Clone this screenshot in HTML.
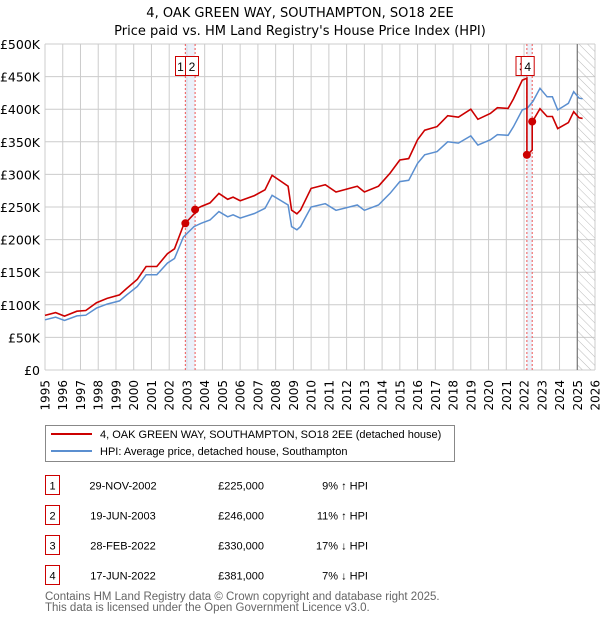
<!DOCTYPE html>
<html><head><meta charset="utf-8"><style>
body{margin:0;background:#fff;font-family:"Liberation Sans","DejaVu Sans",sans-serif;}
svg{display:block}
.dv{font-family:"DejaVu Sans","Liberation Sans",sans-serif;}
</style></head><body>
<svg id="chart" width="600" height="620" viewBox="0 0 600 620" xmlns="http://www.w3.org/2000/svg">
<defs>
<pattern id="hatch" width="6" height="6" patternUnits="userSpaceOnUse" patternTransform="rotate(-45)">
<line x1="0" y1="0" x2="0" y2="6" stroke="#bbb" stroke-width="1"/></pattern>
</defs>
<text class="dv" x="300" y="17" text-anchor="middle" font-size="13" fill="#000">4, OAK GREEN WAY, SOUTHAMPTON, SO18 2EE</text>
<text class="dv" x="300" y="35" text-anchor="middle" font-size="13" fill="#000">Price paid vs. HM Land Registry's House Price Index (HPI)</text>
<g id="grid"></g>
<g id="marks"></g>
<g id="axes" class="dv"></g>
<g>
<rect x="45.5" y="425.5" width="409" height="36" fill="#fff" stroke="#888"/>
<line x1="51" y1="434" x2="92" y2="434" stroke="#cc0000" stroke-width="2"/>
<text x="100" y="438" font-size="11">4, OAK GREEN WAY, SOUTHAMPTON, SO18 2EE (detached house)</text>
<line x1="51" y1="451" x2="92" y2="451" stroke="#5b8fd0" stroke-width="2"/>
<text x="100" y="455" font-size="11">HPI: Average price, detached house, Southampton</text>
</g>
<g id="table" font-size="11"></g>
<text x="45" y="600" font-size="11.5" fill="#666">Contains HM Land Registry data © Crown copyright and database right 2025.</text>
<text x="45" y="611" font-size="11.5" fill="#666">This data is licensed under the Open Government Licence v3.0.</text>
</svg>
<script>
const hpiDates=[1995.0,1995.6,1996.1,1996.8,1997.3,1997.9,1998.5,1999.2,1999.6,2000.2,2000.7,2001.3,2001.9,2002.3,2002.8,2003.4,2003.8,2004.3,2004.8,2005.3,2005.6,2006.0,2006.8,2007.4,2007.8,2008.1,2008.7,2008.9,2009.2,2009.4,2010.0,2010.8,2011.4,2012.6,2013.0,2013.8,2014.45,2015.0,2015.5,2016.0,2016.4,2017.1,2017.7,2018.3,2019.0,2019.4,2020.1,2020.5,2021.1,2021.4,2021.9,2022.2,2022.5,2022.9,2023.3,2023.6,2023.9,2024.2,2024.5,2024.8,2025.1,2025.3];
const hpiValues=[77,81,76,83,84,95,101,106,115,128,146,146,164,171,204,220,225,230,243,235,238,233,240,248,268,263,253,220,215,220,250,255,245,253,245,253,271,289,291,317,330,335,350,348,359,345,353,361,360,373,399,402,412,432,419,419,399,404,409,427,417,416];
const saleLabels=["1","2","3","4"];
const saleDates=[2002.91,2003.46,2022.16,2022.46];
const salePrices=[225000,246000,330000,381000];
const saleDateText=["29-NOV-2002","19-JUN-2003","28-FEB-2022","17-JUN-2022"];
const saleHpiText=["9% \u2191 HPI","11% \u2191 HPI","17% \u2193 HPI","7% \u2193 HPI"];
const yTicks=[0,50,100,150,200,250,300,350,400,450,500];
const yTickLabels=["£0","£50K","£100K","£150K","£200K","£250K","£300K","£350K","£400K","£450K","£500K"];
const xYears=[1995,1996,1997,1998,1999,2000,2001,2002,2003,2004,2005,2006,2007,2008,2009,2010,2011,2012,2013,2014,2015,2016,2017,2018,2019,2020,2021,2022,2023,2024,2025,2026];

const NS="http://www.w3.org/2000/svg";
const X0=45,X1=595,Y0=370,Y1=44;
const xs=y=>X0+(y-1995)/(2026-1995)*(X1-X0);
const ys=v=>Y0-v/500*(Y0-Y1);
function mk(tag,attrs,parent){const e=document.createElementNS(NS,tag);for(const k in attrs)e.setAttribute(k,attrs[k]);parent.appendChild(e);return e;}
const grid=document.getElementById('grid'),marks=document.getElementById('marks'),axes=document.getElementById('axes'),table=document.getElementById('table');
yTicks.forEach((t,i)=>{
 const l=mk('line',{x1:X0,x2:X1,y1:ys(t),y2:ys(t),stroke:'#ccc','stroke-width':1},grid);
 
 
 const tx=mk('text',{x:X0-5,y:ys(t)+5,'text-anchor':'end','font-size':12.5},axes);
 tx.textContent=yTickLabels[i];
 
 
});
xYears.forEach(yr=>{
 const l=mk('line',{x1:xs(yr),x2:xs(yr),y1:Y1,y2:Y0,stroke:'#ccc','stroke-width':1},grid);
 
 
 const tx=mk('text',{x:0,y:0,'text-anchor':'end','font-size':12,transform:`translate(${xs(yr)+4.5},380) rotate(-90)`},axes);
 tx.textContent=yr;
 
 
});
const h=mk('rect',{x:xs(2025),y:Y1,width:X1-xs(2025),height:Y0-Y1,fill:'url(#hatch)'},grid);


mk('line',{x1:xs(2025),x2:xs(2025),y1:Y1,y2:Y0,stroke:'#666','stroke-width':1},grid);
[[0,1],[2,3]].forEach(p=>{
 const b=mk('rect',{x:xs(saleDates[p[0]]),y:Y1,width:xs(saleDates[p[1]])-xs(saleDates[p[0]]),height:Y0-Y1,fill:'#dde6f5',opacity:0.6},grid);
 
 
});
saleDates.forEach(d=>{
 const l=mk('line',{x1:xs(d),x2:xs(d),y1:Y1,y2:Y0,stroke:'#ee5555','stroke-width':1,'stroke-dasharray':'2,2'},grid);
 
 
});
function hpiAt(d){
 if(d<=hpiDates[0])return hpiValues[0];
 for(let i=1;i<hpiDates.length;i++){if(d<=hpiDates[i]){const t=(d-hpiDates[i-1])/(hpiDates[i]-hpiDates[i-1]);return hpiValues[i-1]+t*(hpiValues[i]-hpiValues[i-1]);}}
 return hpiValues[hpiValues.length-1];
}
const hp=mk('path',{d:hpiDates.map((d,i)=>(i?'L':'M')+xs(d).toFixed(1)+','+ys(hpiValues[i]).toFixed(1)).join(''),fill:'none',stroke:'#5b8fd0','stroke-width':1.5},marks);


const ratios=saleDates.map((d,i)=>salePrices[i]/1000/hpiAt(d));
let pts=[];
const bounds=[1995,...saleDates,hpiDates[hpiDates.length-1]];
for(let s=0;s<bounds.length-1;s++){
 const r=ratios[Math.max(0,s-1)];
 const a=bounds[s],b=bounds[s+1];
 pts.push([a,hpiAt(a)*r]);
 hpiDates.forEach((d,i)=>{if(d>a&&d<b)pts.push([d,hpiValues[i]*r]);});
 pts.push([b,hpiAt(b)*r]);
}
const rp=mk('path',{d:pts.map((p,i)=>(i?'L':'M')+xs(p[0]).toFixed(1)+','+ys(p[1]).toFixed(1)).join(''),fill:'none',stroke:'#cc0000','stroke-width':1.6},marks);


saleDates.forEach((d,i)=>{
 const c=mk('circle',{cx:xs(d),cy:ys(salePrices[i]/1000),r:4,fill:'#cc0000'},marks);
 
 
});
const boxX=[175,185,515.5,520.7],boxW=[10,13,13,13];
saleLabels.forEach((s,i)=>{
 const g=mk('g',{},marks);
 
 
 mk('rect',{x:boxX[i]+0.5,y:56.5,width:boxW[i],height:19,fill:'#fff',stroke:'#cc0000'},g);
 const t=mk('text',{x:boxX[i]+0.5+boxW[i]/2,y:71,'text-anchor':'middle','font-size':12},g);
 t.textContent=s;
});
saleLabels.forEach((s,i)=>{
 const y=486+i*30;
 const g=mk('g',{},table);
 
 
 mk('rect',{x:45.5,y:y-10.5,width:14,height:19,fill:'#fff',stroke:'#cc0000'},g);
 const n=mk('text',{x:52.5,y:y+3.5,'text-anchor':'middle'},g);n.textContent=s;
 const a=mk('text',{x:123,y:y+3.5,'text-anchor':'middle'},g);a.textContent=saleDateText[i];
 const p=mk('text',{x:264,y:y+3.5,'text-anchor':'end'},g);p.textContent='£'+salePrices[i].toLocaleString('en-GB');
 const q=mk('text',{x:368,y:y+3.5,'text-anchor':'end'},g);q.textContent=saleHpiText[i];
});
</script>
</body></html>
